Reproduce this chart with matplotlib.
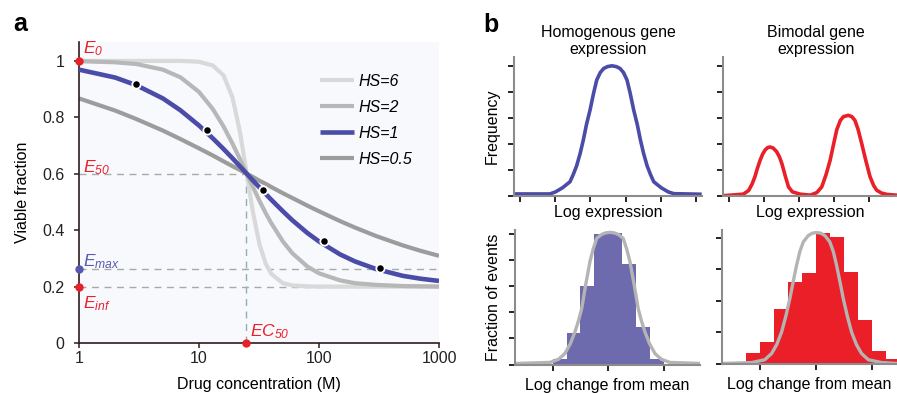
import matplotlib
matplotlib.use('Agg')
import matplotlib.pyplot as plt

plt.rcParams['font.family'] = ['Liberation Sans', 'DejaVu Sans']
plt.rcParams['mathtext.fontset'] = 'custom'
plt.rcParams['mathtext.rm'] = 'Liberation Sans:italic'
plt.rcParams['mathtext.it'] = 'Liberation Sans:italic'

# ---------------- data: panel a ----------------
conc = [1, 2, 3, 5, 7, 10, 13, 16, 19, 22, 25, 28, 32, 36, 40, 50, 60, 80,
        100, 150, 200, 300, 500, 700, 1000]
hs6 = [1.000, 1.000, 1.000, 1.000, 1.000, 0.997, 0.984, 0.949, 0.871, 0.746,
       0.600, 0.469, 0.348, 0.281, 0.245, 0.212, 0.204, 0.201, 0.200, 0.200,
       0.200, 0.200, 0.200, 0.200, 0.200]
hs2 = [0.999, 0.995, 0.989, 0.969, 0.942, 0.890, 0.830, 0.768, 0.707, 0.651,
       0.600, 0.555, 0.503, 0.460, 0.425, 0.360, 0.318, 0.271, 0.247, 0.222,
       0.212, 0.206, 0.202, 0.201, 0.200]
hs1 = [0.969, 0.941, 0.914, 0.867, 0.825, 0.771, 0.726, 0.688, 0.655, 0.626,
       0.600, 0.577, 0.551, 0.528, 0.508, 0.467, 0.435, 0.390, 0.360, 0.314,
       0.289, 0.262, 0.238, 0.228, 0.220]
hs05 = [0.867, 0.824, 0.794, 0.753, 0.723, 0.690, 0.665, 0.644, 0.627, 0.613,
        0.600, 0.589, 0.575, 0.564, 0.553, 0.531, 0.514, 0.487, 0.467, 0.432,
        0.409, 0.379, 0.346, 0.327, 0.309]
dot_conc = [3, 11.7, 34, 110, 321]
dot_vals = [0.918, 0.755, 0.543, 0.362, 0.266]
E0, E50, Emax, Einf = 1.0, 0.6, 0.263, 0.2
EC50 = 24.5
xtick_vals = [1, 10, 100, 1000]
ytick_vals = [0, 0.2, 0.4, 0.6, 0.8, 1]
ytick_labels = ['0', '0.2', '0.4', '0.6', '0.8', '1']
legend_labels = ['HS=6', 'HS=2', 'HS=1', 'HS=0.5']

# ---------------- data: panel b ----------------
homog_x = [-0.09, 0.85, 1.01, 1.21, 1.42, 1.51, 1.61, 1.71, 1.80, 1.89, 1.99,
           2.09, 2.18, 2.28, 2.38, 2.49, 2.61, 2.73, 2.84, 2.94, 3.04, 3.13,
           3.23, 3.33, 3.42, 3.51, 3.61, 3.71, 3.80, 4.01, 4.21, 4.37, 5.11]
homog_y = [0.06, 0.06, 0.14, 0.30, 0.53, 0.80, 1.15, 1.63, 2.15, 2.75, 3.30,
           3.95, 4.46, 4.75, 4.91, 4.98, 5.01, 4.98, 4.91, 4.75, 4.46, 3.95,
           3.30, 2.75, 2.15, 1.63, 1.15, 0.80, 0.53, 0.30, 0.14, 0.07, 0.05]
bimod_x = [-0.17, 0.40, 0.55, 0.65, 0.73, 0.80, 0.88, 0.95, 1.02, 1.09, 1.16,
           1.25, 1.35, 1.43, 1.50, 1.60, 1.69, 1.80, 2.02, 2.31, 2.50, 2.64,
           2.76, 2.88, 2.98, 3.07, 3.17, 3.26, 3.40, 3.50, 3.59, 3.68, 3.78,
           3.90, 4.02, 4.12, 4.21, 4.35, 4.50, 4.78]
bimod_y = [0.00, 0.06, 0.20, 0.45, 0.73, 1.05, 1.37, 1.60, 1.76, 1.85, 1.88,
           1.84, 1.70, 1.50, 1.24, 0.75, 0.34, 0.15, 0.06, 0.02, 0.12, 0.34,
           0.80, 1.37, 2.00, 2.55, 2.90, 3.05, 3.10, 3.05, 2.90, 2.55, 2.02,
           1.35, 0.73, 0.40, 0.21, 0.10, 0.05, 0.02]

hist_blue_bins = [0, 1, 2, 3, 4, 5, 6, 7]
hist_blue_vals = [0.20, 1.22, 3.01, 5.00, 5.05, 3.87, 1.45, 0.20]
fit_blue_x = [-2.59, -0.19, 0.42, 0.88, 1.27, 1.60, 1.84, 2.09, 2.37, 2.68,
              2.92, 3.17, 3.52, 3.82, 4.12, 4.42, 4.72, 5.07, 5.32, 5.56,
              5.87, 6.15, 6.40, 6.64, 6.97, 7.36, 7.82, 8.43, 10.6]
fit_blue_y = [0.04, 0.08, 0.20, 0.42, 0.80, 1.25, 1.65, 2.15, 3.05, 3.95,
              4.45, 4.85, 5.00, 5.06, 5.08, 5.06, 5.00, 4.85, 4.45, 3.95,
              3.05, 2.15, 1.65, 1.25, 0.80, 0.42, 0.20, 0.08, 0.04]

hist_red_bins = [-1, 0, 1, 2, 3, 4, 5, 6, 7, 8, 9]
hist_red_vals = [0.34, 0.68, 1.72, 2.58, 2.87, 4.16, 4.02, 2.90, 1.37, 0.39, 0.14]
fit_red_x = [-2.74, -0.59, 0.35, 0.84, 1.20, 1.55, 1.85, 2.14, 2.38, 2.62,
             2.85, 3.10, 3.45, 3.75, 4.05, 4.35, 4.65, 5.00, 5.25, 5.48,
             5.72, 5.96, 6.25, 6.55, 6.90, 7.26, 7.75, 8.69, 9.80]
fit_red_y = [0.00, 0.03, 0.12, 0.32, 0.60, 1.00, 1.50, 2.06, 2.60, 3.12,
             3.55, 3.86, 4.06, 4.14, 4.16, 4.14, 4.06, 3.86, 3.55, 3.12,
             2.60, 2.06, 1.50, 1.00, 0.60, 0.32, 0.12, 0.03, 0.00]

# ---------------- figure ----------------
W, H = 897, 393
fig = plt.figure(figsize=(W / 100, H / 100), dpi=100)


def px_axes(l, r, t, b):
    return fig.add_axes([l / W, 1 - b / H, (r - l) / W, (b - t) / H])


BLUE = '#4b4ba8'
RED = '#ea1f28'
GRAY_FIT = '#b4b4b4'

# ---------------- panel a ----------------
ax = px_axes(79, 439, 42, 343)
ax.set_facecolor('#f8f9fd')
ax.set_xscale('log')
ax.set_xlim(1, 1000)
ax.set_ylim(0, 1.067)
for s in ['top', 'right']:
    ax.spines[s].set_visible(False)
for s in ['left', 'bottom']:
    ax.spines[s].set_color('#2e1c1c')
    ax.spines[s].set_linewidth(1.2)
ax.set_xticks(xtick_vals)
ax.set_xticklabels([str(v) for v in xtick_vals])
ax.minorticks_off()
ax.set_yticks(ytick_vals)
ax.set_yticklabels(ytick_labels)
ax.tick_params(axis='both', direction='out', length=3.5, width=1.1,
               color='#2e1c1c', labelsize=11.5, labelcolor='#222222')
ax.tick_params(axis='y', pad=7)
ax.tick_params(axis='x', pad=2)

dash = dict(lw=1.0, dashes=(5, 4), zorder=1)
ax.plot([1, EC50], [E50, E50], color='#a9a9a9', **dash)
ax.plot([EC50, EC50], [0, E50], color='#8fb0b4', **dash)
ax.plot([1, 1000], [Emax, Emax], color='#a9a9a9', **dash)
ax.plot([1, 1000], [Einf, Einf], color='#a9a9a9', **dash)

l6, = ax.plot(conc, hs6, color='#d9d9d9', lw=3, zorder=2, solid_capstyle='butt')
l2, = ax.plot(conc, hs2, color='#b7b7b7', lw=3, zorder=2.1, solid_capstyle='butt')
l05, = ax.plot(conc, hs05, color='#9c9c9c', lw=3, zorder=2.2, solid_capstyle='butt')
l1, = ax.plot(conc, hs1, color=BLUE, lw=3.3, zorder=3, solid_capstyle='butt')
ax.plot(dot_conc, dot_vals, 'o', color='black', ms=6, mec='white', mew=1.3,
        zorder=4)

ax.plot([1, 1, EC50], [E0, Einf, 0], 'o', color=RED, ms=5, clip_on=False,
        zorder=6)
ax.plot([1], [Emax], 'o', color='#5858b0', ms=5, clip_on=False, zorder=6)

lab = dict(textcoords='offset points', fontsize=12.5, va='baseline', ha='left')
ax.annotate(r'$E_{0}$', (1, E0), xytext=(3, 5.8), color=RED, **lab)
ax.annotate(r'$E_{50}$', (1, E50), xytext=(3, 0.8), color=RED, **lab)
ax.annotate(r'$E_{max}$', (1, Emax), xytext=(3, 1.5), color='#5858b0', **lab)
ax.annotate(r'$E_{inf}$', (1, Einf), xytext=(3, -15.6), color=RED, **lab)
ax.annotate(r'$EC_{50}$', (EC50, 0), xytext=(3.4, 4.5), color=RED, **lab)

ax.legend([l6, l2, l1, l05], legend_labels, loc='upper left',
          bbox_to_anchor=((320 - 79) / 360, (343 - 74) / 301),
          frameon=False, borderaxespad=0, borderpad=0, handlelength=2.1,
          handletextpad=0.3, labelspacing=0.68,
          prop={'style': 'italic', 'size': 11.5})

ax.set_ylabel('Viable fraction', fontsize=11.5, labelpad=9)
ax.set_xlabel('Drug concentration (M)', fontsize=11.5, labelpad=8)

fig.text(13 / W, 1 - 31 / H, 'a', fontsize=18, fontweight='bold',
         va='baseline', ha='left')
fig.text(483 / W, 1 - 32 / H, 'b', fontsize=18, fontweight='bold',
         va='baseline', ha='left')


def style_b(a):
    for s in ['top', 'right']:
        a.spines[s].set_visible(False)
    for s in ['left', 'bottom']:
        a.spines[s].set_color('#8c8c8c')
        a.spines[s].set_linewidth(1.5)
    a.tick_params(axis='both', direction='out', length=4, width=1.2,
                  color='black', labelleft=False, labelbottom=False)


# top-left
b1 = px_axes(514, 702, 57, 195.5)
b1.plot(homog_x, homog_y, color=BLUE, lw=2.6, solid_joinstyle='round')
b1.set_xlim(-0.17, 5.17)
b1.set_ylim(0, 5.35)
b1.set_xticks(range(6))
b1.set_yticks(range(6))
style_b(b1)
b1.set_xlabel('Log expression', fontsize=11.5, labelpad=3)
b1.set_ylabel('Frequency', fontsize=11.5, labelpad=6)

# top-right
b2 = px_axes(722.7, 897, 57, 195.7)
b2.plot(bimod_x, bimod_y, color=RED, lw=2.6, solid_joinstyle='round')
b2.set_xlim(-0.19, 4.79)
b2.set_ylim(0, 5.35)
b2.set_xticks(range(5))
b2.set_yticks(range(6))
style_b(b2)
b2.set_xlabel('Log expression', fontsize=11.5, labelpad=3)

fig.text(608 / W, 1 - 41 / H, 'Homogenous gene\nexpression', ha='center',
         va='center', fontsize=11.5, linespacing=1.15)
fig.text(816 / W, 1 - 41 / H, 'Bimodal gene\nexpression', ha='center',
         va='center', fontsize=11.5, linespacing=1.15)

# bottom-left
b3 = px_axes(515, 700, 230, 364.5)
b3.bar(hist_blue_bins, hist_blue_vals, width=1.0, align='edge',
       color='#6e6aae', linewidth=0, zorder=1)
b3.plot(fit_blue_x, fit_blue_y, color=GRAY_FIT, lw=2.4, zorder=2,
        solid_joinstyle='round')
b3.set_xlim(-2.71, 10.6)
b3.set_ylim(0, 5.17)
b3.set_xticks([0, 4, 8])
b3.set_yticks(range(6))
style_b(b3)
b3.set_xlabel('Log change from mean', fontsize=11.5, labelpad=6)
b3.set_ylabel('Fraction of events', fontsize=11.5, labelpad=6)

# bottom-right
b4 = px_axes(722.3, 897, 230, 363.5)
b4.bar(hist_red_bins, hist_red_vals, width=1.0, align='edge', color=RED,
       linewidth=0, zorder=1)
b4.plot(fit_red_x, fit_red_y, color=GRAY_FIT, lw=2.4, zorder=2,
        solid_joinstyle='round')
b4.set_xlim(-2.69, 9.8)
b4.set_ylim(0, 4.24)
b4.set_xticks([0, 4, 8])
b4.set_yticks(range(5))
style_b(b4)
b4.set_xlabel('Log change from mean', fontsize=11.5, labelpad=6)

fig.savefig('out.png', dpi=100)
